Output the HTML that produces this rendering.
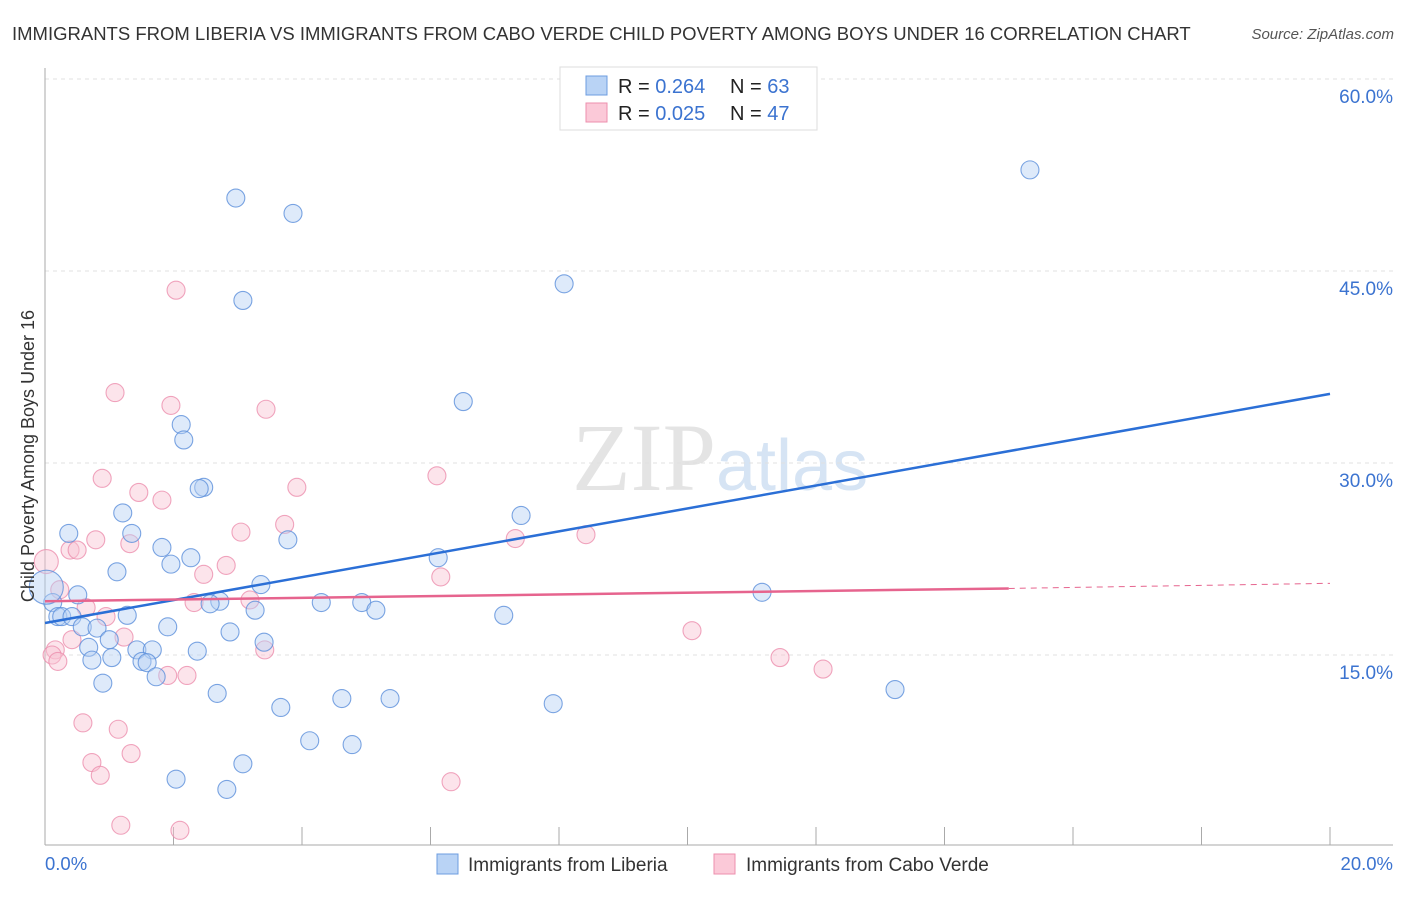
<!DOCTYPE html>
<html><head><meta charset="utf-8"><style>
body{margin:0;background:#fff;font-family:"Liberation Sans",sans-serif;}
svg text{font-family:"Liberation Sans",sans-serif;}
</style></head><body>
<svg id="chart" width="1406" height="892" xmlns="http://www.w3.org/2000/svg">
<text x="12" y="40" font-size="18.5" fill="#333">IMMIGRANTS FROM LIBERIA VS IMMIGRANTS FROM CABO VERDE CHILD POVERTY AMONG BOYS UNDER 16 CORRELATION CHART</text>
<text x="1394" y="39" font-size="15" fill="#555" font-style="italic" text-anchor="end">Source: ZipAtlas.com</text>
<text x="716" y="490" font-size="96" fill="#e4e4e4" text-anchor="end" style="font-family:'Liberation Serif',serif">ZIP</text>
<text x="716" y="490" font-size="72" fill="#d6e4f4">atlas</text>
<g id="grid"></g>
<g id="axes"></g>
<g id="pts"></g>
<g id="lines"></g>
<text transform="translate(34,456) rotate(-90)" font-size="18" fill="#333" text-anchor="middle">Child Poverty Among Boys Under 16</text>
<text x="45" y="870" font-size="18.5" fill="#3b73d0">0.0%</text>
<text x="1393" y="870" font-size="18.5" fill="#3b73d0" text-anchor="end">20.0%</text>
<g>
<rect x="560" y="67" width="257" height="63" fill="#fff" stroke="#ddd"/>
<rect x="586" y="76" width="21" height="19" fill="#b9d3f5" stroke="#6d9de0"/>
<rect x="586" y="103" width="21" height="19" fill="#fbc9d8" stroke="#ec8fae"/>
<text x="618" y="93" font-size="20" fill="#222">R = <tspan fill="#3b73d0">0.264</tspan><tspan x="730">N = </tspan><tspan fill="#3b73d0">63</tspan></text>
<text x="618" y="120" font-size="20" fill="#222">R = <tspan fill="#3b73d0">0.025</tspan><tspan x="730">N = </tspan><tspan fill="#3b73d0">47</tspan></text>
</g>
<g>
<rect x="437" y="854" width="21" height="20" fill="#b9d3f5" stroke="#6d9de0"/>
<text x="468" y="871" font-size="19" fill="#333">Immigrants from Liberia</text>
<rect x="714" y="854" width="21" height="20" fill="#fbc9d8" stroke="#ec8fae"/>
<text x="746" y="871" font-size="19" fill="#333">Immigrants from Cabo Verde</text>
</g>
</svg>
<script>
const yTicks=[15,30,45,60];
const yTickLabels=["15.0%","30.0%","45.0%","60.0%"];
const xTicks=[0,2,4,6,8,10,12,14,16,18,20];
const liberiaX=[15.33,2.97,3.86,8.08,3.08,6.51,2.12,2.16,2.47,2.40,1.21,7.41,0.37,1.35,3.78,1.82,6.12,2.27,1.96,1.12,3.36,11.16,0.51,0.12,4.30,4.93,2.72,2.57,5.15,3.27,0.2,0.26,0.42,1.28,7.14,0.58,0.81,1.91,2.88,1.0,3.41,0.68,1.43,1.67,2.37,1.04,0.73,1.51,1.59,1.73,0.90,13.23,2.68,4.62,5.37,7.91,3.67,4.12,4.78,3.08,2.04,2.83,0.02];
const liberiaY=[52.9,50.7,49.5,44.0,42.7,34.8,33.0,31.8,28.1,28.0,26.1,25.9,24.5,24.5,24.0,23.4,22.6,22.6,22.1,21.5,20.5,19.9,19.7,19.1,19.1,19.1,19.2,19.0,18.5,18.5,18.0,18.0,18.0,18.1,18.1,17.2,17.1,17.2,16.8,16.2,16.0,15.6,15.4,15.4,15.3,14.8,14.6,14.5,14.4,13.3,12.8,12.3,12.0,11.6,11.6,11.2,10.9,8.3,8.0,6.5,5.3,4.5,20.3];
const liberiaR=[9,9,9,9,9,9,9,9,9,9,9,9,9,9,9,9,9,9,9,9,9,9,9,9,9,9,9,9,9,9,9,9,9,9,9,9,9,9,9,9,9,9,9,9,9,9,9,9,9,9,9,9,9,9,9,9,9,9,9,9,9,9,17];
const caboX=[2.04,1.09,1.96,3.44,0.89,6.10,3.92,1.46,1.82,3.73,3.05,0.79,7.32,8.42,1.32,0.39,0.50,2.82,2.47,6.16,0.23,3.19,2.32,0.64,0.95,0.42,1.23,10.07,3.42,0.16,0.11,0.2,11.44,12.11,2.21,1.91,0.59,1.14,1.34,0.73,0.86,6.32,1.18,2.10,0.02];
const caboY=[43.5,35.5,34.5,34.2,28.8,29.0,28.1,27.7,27.1,25.2,24.6,24.0,24.1,24.4,23.7,23.2,23.2,22.0,21.3,21.1,20.1,19.3,19.1,18.7,18.0,16.2,16.4,16.9,15.4,15.4,15.0,14.5,14.8,13.9,13.4,13.4,9.7,9.2,7.3,6.6,5.6,5.1,1.7,1.3,22.3];
const caboR=[9,9,9,9,9,9,9,9,9,9,9,9,9,9,9,9,9,9,9,9,9,9,9,9,9,9,9,9,9,9,9,9,9,9,9,9,9,9,9,9,9,9,9,9,12];
const liberiaTrend=[17.5,35.4];
const caboTrend=[19.2,20.2,20.6];
const caboTrendSolidEnd=15;
const X=v=>45+v/20*1285;
const Y=v=>847-v/15*192;
const NS="http://www.w3.org/2000/svg";
function mk(tag,attrs,parent){const e=document.createElementNS(NS,tag);for(const k in attrs)e.setAttribute(k,attrs[k]);document.getElementById(parent).appendChild(e);return e;}
yTicks.forEach((t,i)=>{
 const g=mk('line',{x1:45,x2:1393,y1:Y(t),y2:Y(t),stroke:'#e0e0e0','stroke-dasharray':'4,4'},'grid');
 
 
 const tx=mk('text',{x:1393,y:Y(t)+24,'font-size':19,fill:'#3b73d0','text-anchor':'end'},'grid');
 tx.textContent=yTickLabels[i];
 
 
});
const ax=mk('line',{x1:45,x2:45,y1:68,y2:845,stroke:'#aaa'},'axes');


const bx=mk('line',{x1:45,x2:1393,y1:845,y2:845,stroke:'#aaa'},'axes');


xTicks.forEach(t=>{
 const l=mk('line',{x1:X(t),x2:X(t),y1:827,y2:845,stroke:'#aaa'},'axes');
 
 
});
function dots(xs,ys,rs,fill,stroke,name){
 xs.forEach((x,i)=>{
  const c=mk('circle',{cx:X(x),cy:Y(ys[i]),r:rs[i],fill:fill,'fill-opacity':0.45,stroke:stroke,'stroke-width':1.1,'stroke-opacity':0.8},'pts');
  
  
 });
}
dots(caboX,caboY,caboR,'#f9c3d3','#ec8fae','cabo-verde-point');
dots(liberiaX,liberiaY,liberiaR,'#b5d0f3','#5b8fdb','liberia-point');
const bl=mk('line',{x1:X(0),y1:Y(liberiaTrend[0]),x2:X(20),y2:Y(liberiaTrend[1]),stroke:'#2b6fd6','stroke-width':2.5},'lines');


const pl=mk('line',{x1:X(0),y1:Y(caboTrend[0]),x2:X(caboTrendSolidEnd),y2:Y(caboTrend[1]),stroke:'#e6648e','stroke-width':2.5},'lines');


const pd=mk('line',{x1:X(caboTrendSolidEnd),y1:Y(caboTrend[1]),x2:X(20),y2:Y(caboTrend[2]),stroke:'#e6648e','stroke-width':1,'stroke-dasharray':'6,5'},'lines');


</script>
</body></html>
